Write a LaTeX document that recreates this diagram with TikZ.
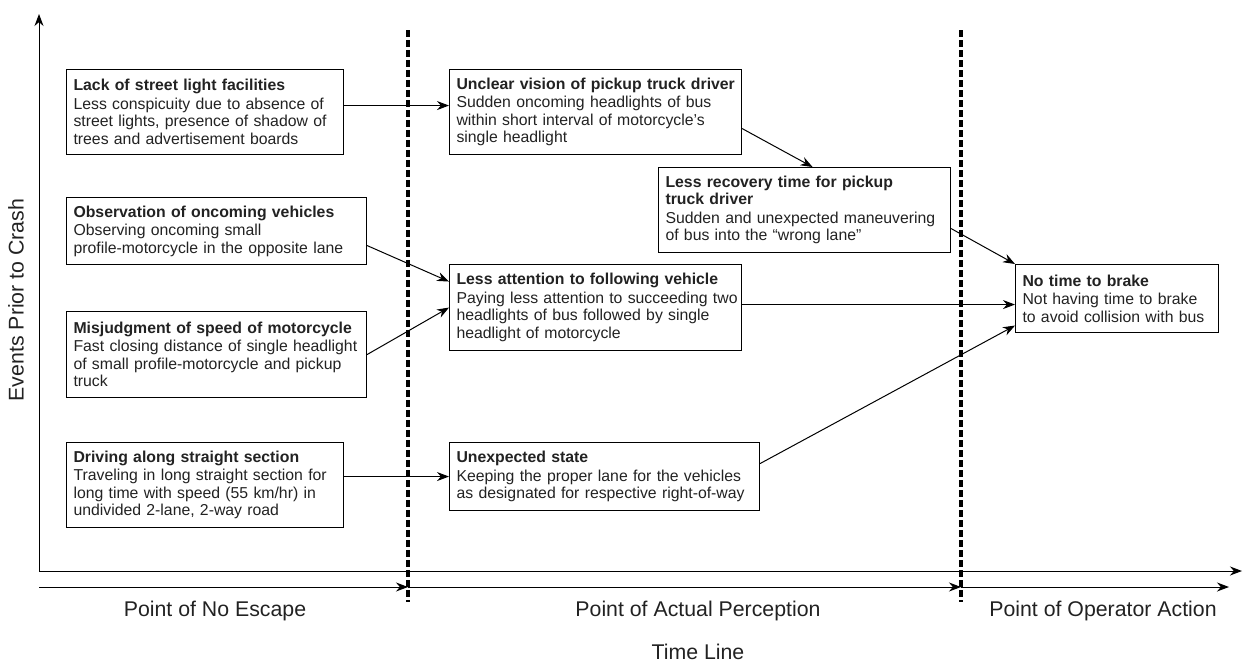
\documentclass[tikz,border=0pt]{standalone}
\usepackage{fontspec}
\setmainfont{Liberation Sans}
\usetikzlibrary{arrows.meta,calc}
\newcommand{\ml}[1]{\mbox{#1}}
\newcommand{\mt}[1]{\mbox{\bfseries #1}}
\definecolor{ink}{HTML}{222222}
\tikzset{
  box/.style={draw, line width=1.1pt, anchor=north west, align=left, inner xsep=7pt, inner ysep=3pt,
    text=ink, font=\fontsize{15.8}{17.5}\selectfont},
  conn/.style={line width=1pt, -{Stealth[length=12pt,width=9pt]}},
  axis/.style={line width=1pt, -{Stealth[length=12pt,width=9pt]}},
  divider/.style={line width=3.5pt, dash pattern=on 6.5pt off 3.5pt},
  axlabel/.style={text=ink, font=\fontsize{21.3}{24}\selectfont}
}
\begin{document}
\begin{tikzpicture}[x=1pt,y=-1pt]
\useasboundingbox (0,0) rectangle (1243,662);

% boxes
\node[box, text width=263pt, minimum height=85pt] (b1) at (66,69)
  {\mt{Lack of street light facilities}\\[1pt]\ml{Less conspicuity due to absence of}\\\ml{street lights, presence of shadow of}\\\ml{trees and advertisement boards}};
\node[box, text width=286pt, minimum height=67pt] (b2) at (66,197)
  {\mt{Observation of oncoming vehicles}\\[1pt]\ml{Observing oncoming small}\\\ml{profile-motorcycle in the opposite lane}};
\node[box, text width=286pt, minimum height=86pt] (b3) at (66,311)
  {\mt{Misjudgment of speed of motorcycle}\\[1pt]\ml{Fast closing distance of single headlight}\\\ml{of small profile-motorcycle and pickup}\\\ml{truck}};
\node[box, text width=263pt, minimum height=85pt] (b4) at (66,442)
  {\mt{Driving along straight section}\\[1pt]\ml{Traveling in long straight section for}\\\ml{long time with speed (55 km/hr) in}\\\ml{undivided 2-lane, 2-way road}};
\node[box, text width=278pt, minimum height=85pt] (b5) at (449,69)
  {\mt{Unclear vision of pickup truck driver}\\[1pt]\ml{Sudden oncoming headlights of bus}\\\ml{within short interval of motorcycle's}\\\ml{single headlight}};
\node[box, text width=278pt, minimum height=85pt] (b6) at (658,167)
  {\mt{Less recovery time for pickup}\\\mt{truck driver}\\[1pt]\ml{Sudden and unexpected maneuvering}\\\ml{of bus into the “wrong lane”}};
\node[box, text width=278pt, minimum height=86pt] (b7) at (449,264)
  {\mt{Less attention to following vehicle}\\[1pt]\ml{Paying less attention to succeeding two}\\\ml{headlights of bus followed by single}\\\ml{headlight of motorcycle}};
\node[box, text width=296pt, minimum height=68pt] (b8) at (449,442)
  {\mt{Unexpected state}\\[1pt]\ml{Keeping the proper lane for the vehicles}\\\ml{as designated for respective right-of-way}};
\node[box, text width=189pt, minimum height=68pt] (b9) at (1015,264)
  {\mt{No time to brake}\\[1pt]\ml{Not having time to brake}\\\ml{to avoid collision with bus}};

% axes
\coordinate (O) at (39,571);
\coordinate (ytip) at (39,14);
\coordinate (xtip) at (1242,571);
\draw[axis] (O) -- (ytip);
\draw[axis] (O) -- (xtip);

% time line
\coordinate (t0) at (39,587);
\coordinate (t1) at (408,587);
\coordinate (t2) at (961,587);
\coordinate (t3) at (1229,587);
\draw[axis] (t0) -- (t1);
\draw[axis] (t1) -- (t2);
\draw[axis] (t2) -- (t3);

% dividers
\coordinate (d1a) at (408,30);
\coordinate (d1b) at (408,602);
\coordinate (d2a) at (961,30);
\coordinate (d2b) at (961,602);
\draw[divider] (d1a) -- (d1b);
\draw[divider] (d2a) -- (d2b);

% connectors
\draw[conn] ([yshift=6.5pt]b1.east) -- ([yshift=6.5pt]b1.east -| b5.west);
\draw[conn] ([yshift=-16.5pt]b5.east) -- ([xshift=8pt]b6.north);
\draw[conn] ([yshift=-14.5pt]b2.east) -- ([yshift=26pt]b7.west);
\draw[conn] (b3.east) -- (b7.west);
\draw[conn] ([yshift=3pt]b7.east) -- ([yshift=3pt]b7.east -| b9.west);
\draw[conn] ([yshift=-18.5pt]b6.east) -- (b9.north west);
\draw[conn] ([yshift=13pt]b8.east) -- ([yshift=-27pt]b9.west);
\draw[conn] (b4.east |- b8.west) -- (b8.west);

% labels
\node[axlabel] (l1) at (215,611) {Point of No Escape};
\node[axlabel] (l2) at (698,611) {Point of Actual Perception};
\node[axlabel] (l3) at (1103,611) {Point of Operator Action};
\node[axlabel] (l4) at (698,652) {Time Line};
\node[axlabel, rotate=90] (ly) at (16,300) {Events Prior to Crash};
\end{tikzpicture}
\end{document}
